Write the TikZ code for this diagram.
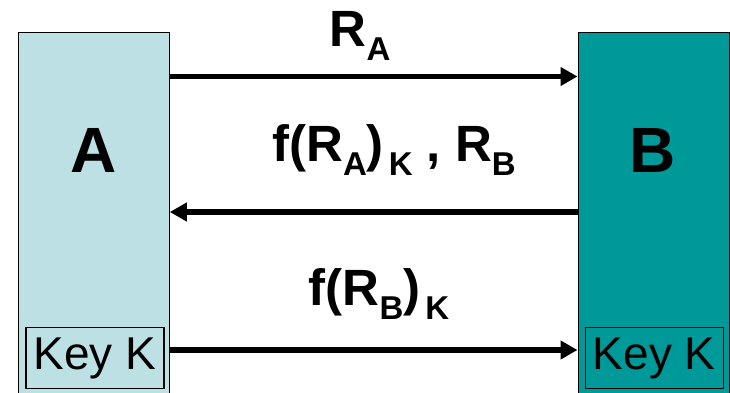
\documentclass[tikz,border=0pt]{standalone}
\usepackage{fontspec}
\setmainfont{Liberation Sans}
\usetikzlibrary{arrows.meta,calc}
\definecolor{lightteal}{RGB}{188,224,227}
\definecolor{darkteal}{RGB}{0,153,153}
\newcommand{\lbl}{\fontsize{51}{60}\selectfont\bfseries}
\newcommand{\sbx}[1]{\raisebox{-14pt}{\fontsize{33}{36}\selectfont\bfseries #1}}
\tikzset{
  party/.style={draw=black, line width=1.3pt, minimum width=151pt, minimum height=370pt, anchor=north west, inner sep=0pt},
  keybox/.style={draw=black, line width=1.2pt, minimum width=138pt, minimum height=61pt, inner sep=0pt, font=\fontsize{46}{50}\selectfont},
  msg/.style={line width=5.5pt, -{Triangle[length=17pt,width=18pt]}},
  msglabel/.style={anchor=base west, inner sep=0pt, font=\lbl},
  partylabel/.style={inner sep=0pt, font=\fontsize{64}{70}\selectfont\bfseries}
}
\begin{document}
\begin{tikzpicture}[x=1pt,y=-1pt]
\clip (0,0) rectangle (730,392);
\fill[white] (0,0) rectangle (730,392);
\node[party, fill=lightteal] (boxA) at (17.5,31.5) {};
\node[party, fill=darkteal] (boxB) at (577.5,31.5) {};
\node[partylabel, anchor=base] (labA) at (93.5,172.7) {A};
\node[partylabel, anchor=base] (labB) at (652.5,172.7) {B};
\node[keybox, fill=lightteal] (keyA) at (95,358) {Key K};
\node[keybox, fill=darkteal] (keyB) at (654.2,358) {Key K};
\draw[msg] ($(boxA.north east)+(0,45)$) -- ($(boxB.north west)+(0,45)$);
\draw[msg] ($(boxB.north west)+(0,180.5)$) -- ($(boxA.north east)+(0,180.5)$);
\draw[msg] ($(boxA.north east)+(0,318.5)$) -- ($(boxB.north west)+(0,318.5)$);
\node[msglabel] (m1) at (329.5,46.7) {R\sbx{A}};
\node[msglabel] (m2) at (272,161.7) {f(R\sbx{A})\hspace{5pt}\sbx{K} , R\sbx{B}};
\node[msglabel] (m3) at (308.5,305) {f(R\sbx{B})\hspace{5pt}\sbx{K}};
\end{tikzpicture}
\end{document}
